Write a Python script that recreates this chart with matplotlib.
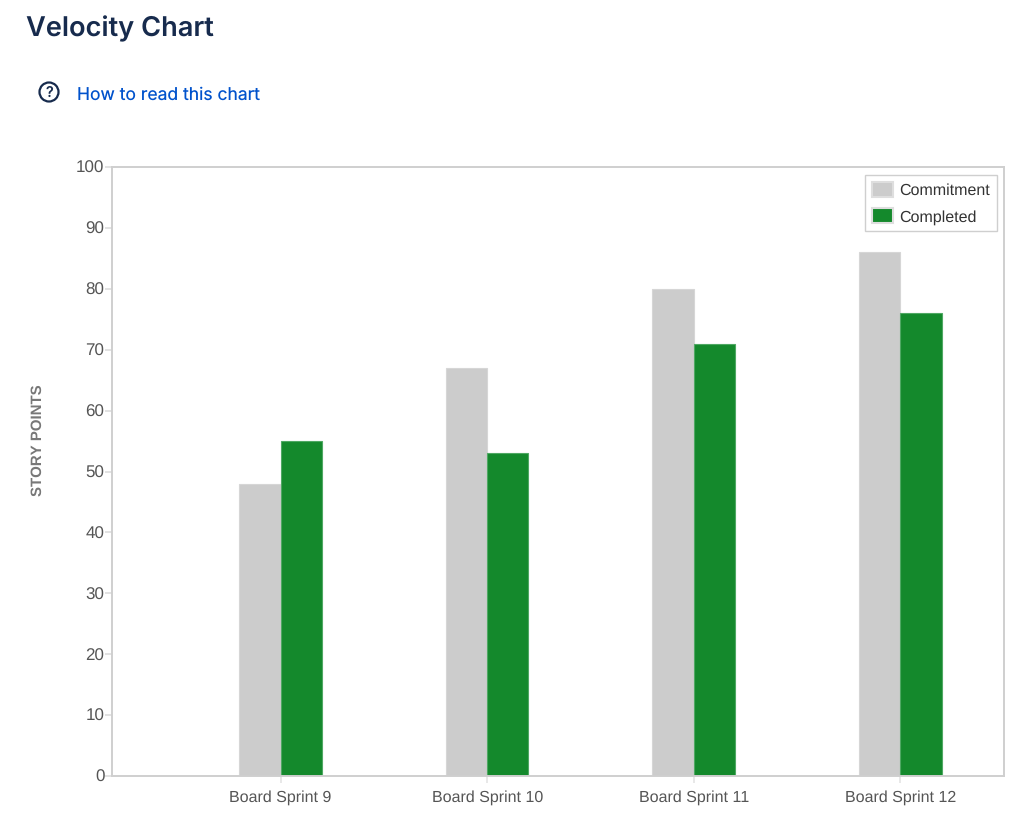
import matplotlib
matplotlib.use('Agg')
import numpy as np
import matplotlib.pyplot as plt
from matplotlib.patches import Circle, Patch

# ==============================
# Data
# ==============================
sprints    = ['Board Sprint 9', 'Board Sprint 10', 'Board Sprint 11', 'Board Sprint 12']
commitment = [48, 67, 80, 86]
completed  = [55, 53, 71, 76]
y_ticks    = [0, 10, 20, 30, 40, 50, 60, 70, 80, 90, 100]

W, H = 1024, 814
GREY, GREEN, LINE = '#cccccc', '#14892c', '#cfcfcf'
TEXT = '#555555'

plt.rcParams['font.family'] = ['Liberation Sans', 'DejaVu Sans']
plt.rcParams['text.hinting'] = 'no_hinting'
plt.rcParams['text.hinting_factor'] = 1

# ==============================
# Figure and axes
# ==============================
fig = plt.figure(figsize=(W / 100, H / 100), dpi=100, facecolor='white')
ax = fig.add_axes([112 / W, 1 - 776 / H, (1004 - 112) / W, (776 - 167) / H])

x = np.arange(len(sprints))
width = 0.2
ax.bar(x - width / 2, commitment, width, color=GREY, edgecolor='#d6d6d6', lw=0.8)
ax.bar(x + width / 2, completed, width, color=GREEN, edgecolor='#4fa863', lw=0.8)

ax.set_xlim(-0.816, 3.502)
ax.set_ylim(0, 100)
ax.set_yticks(y_ticks)
ax.set_xticks(x)
ax.set_xticklabels(sprints)
ax.tick_params(axis='y', length=5, width=1.2, color='#dddddd', labelcolor=TEXT, labelsize=12, pad=0.5)
ax.tick_params(axis='x', length=5, width=1.2, color='#e4e4e4', labelcolor=TEXT, labelsize=11.2, pad=5)
for spine in ax.spines.values():
    spine.set_color(LINE)
    spine.set_linewidth(1.4)

handles = [Patch(fc=GREY, ec='#dedede', lw=1.5, label='Commitment'),
           Patch(fc=GREEN, ec='#dedede', lw=1.5, label='Completed')]
leg = ax.legend(handles=handles, loc='upper right', bbox_to_anchor=(0.9922, 0.9865), borderaxespad=0,
                fontsize=11.6, frameon=True, fancybox=False, framealpha=1, edgecolor=LINE,
                handlelength=1.3, handleheight=1.05, handletextpad=0.42,
                labelspacing=0.62, borderpad=0.42, labelcolor='#333333')
leg.get_frame().set_linewidth(1.0)

fig.text(38 / W, 1 - 440 / H, 'STORY POINTS', rotation=90, ha='center', va='center',
         fontsize=10.9, fontweight='bold', color='#777777')

# ==============================
# Header
# ==============================
fig.text(26 / W, 1 - 29 / H, 'Velocity Chart', family='Inter', fontsize=19.6, fontweight='semibold',
         color='#172b4d', ha='left', va='center')
fig.text(77 / W, 1 - 95 / H, 'How to read this chart', family='Inter', fontsize=12.6,
         color='#0052cc', ha='left', va='center')

icon = fig.add_axes([0, 0, 1, 1], facecolor='none')
icon.set_xlim(0, W)
icon.set_ylim(H, 0)
icon.axis('off')
icon.add_patch(Circle((49, 92), 9.5, fc='none', ec='#172b4d', lw=1.6))
icon.text(49, 92.5, '?', family='Inter', fontsize=10.5, fontweight='medium', color='#172b4d',
          ha='center', va='center')

fig.savefig('out.png', dpi=100)
